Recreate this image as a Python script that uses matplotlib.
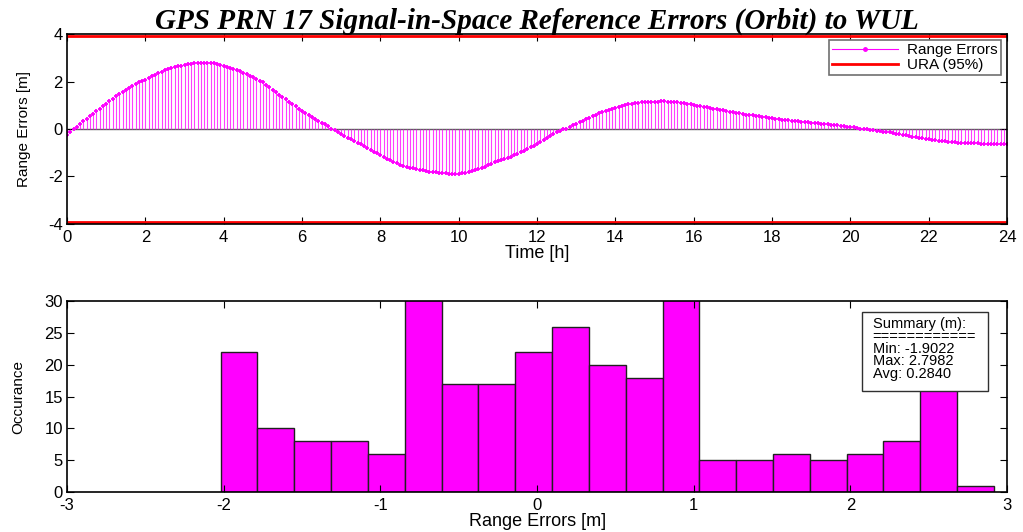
import numpy as np
import matplotlib
matplotlib.use("Agg")
import matplotlib.pyplot as plt
from matplotlib.patches import Rectangle

plt.rcParams['font.family'] = ['Liberation Sans', 'DejaVu Sans']
plt.rcParams['axes.unicode_minus'] = False

# range errors [m], one sample every 5 minutes over 24 h
range_err = [
    -0.25, -0.14, -0.02, 0.09, 0.20, 0.32, 0.43, 0.54, 0.64, 0.75, 0.86, 0.96,
    1.07, 1.17, 1.27, 1.37, 1.47, 1.57, 1.66, 1.74, 1.82, 1.89, 1.96, 2.02,
    2.08, 2.15, 2.22, 2.29, 2.36, 2.42, 2.48, 2.53, 2.57, 2.61, 2.64, 2.67,
    2.70, 2.72, 2.74, 2.76, 2.78, 2.79, 2.80, 2.80, 2.79, 2.77, 2.74, 2.71,
    2.67, 2.63, 2.59, 2.54, 2.49, 2.44, 2.38, 2.32, 2.25, 2.18, 2.10, 2.04,
    1.98, 1.87, 1.77, 1.66, 1.56, 1.45, 1.35, 1.25, 1.15, 1.05, 0.95, 0.85,
    0.75, 0.67, 0.59, 0.51, 0.43, 0.35, 0.27, 0.19, 0.11, 0.02, -0.06, -0.14,
    -0.22, -0.29, -0.36, -0.44, -0.51, -0.58, -0.65, -0.73, -0.80, -0.88, -0.96, -1.03,
    -1.11, -1.18, -1.25, -1.32, -1.38, -1.44, -1.50, -1.55, -1.59, -1.63, -1.66, -1.69,
    -1.71, -1.74, -1.76, -1.79, -1.81, -1.83, -1.84, -1.86, -1.87, -1.89, -1.90, -1.89,
    -1.88, -1.86, -1.84, -1.81, -1.78, -1.74, -1.69, -1.64, -1.58, -1.52, -1.46, -1.41,
    -1.36, -1.31, -1.26, -1.21, -1.16, -1.10, -1.05, -0.98, -0.91, -0.84, -0.77, -0.71,
    -0.64, -0.56, -0.47, -0.38, -0.30, -0.21, -0.13, -0.07, -0.02, 0.02, 0.09, 0.16,
    0.22, 0.29, 0.35, 0.42, 0.48, 0.55, 0.61, 0.66, 0.71, 0.76, 0.81, 0.86,
    0.90, 0.94, 0.97, 1.01, 1.04, 1.07, 1.09, 1.11, 1.12, 1.13, 1.14, 1.15,
    1.15, 1.15, 1.16, 1.16, 1.15, 1.15, 1.14, 1.13, 1.11, 1.08, 1.06, 1.04,
    1.02, 0.99, 0.96, 0.94, 0.91, 0.89, 0.86, 0.83, 0.80, 0.78, 0.75, 0.72,
    0.70, 0.68, 0.66, 0.63, 0.61, 0.59, 0.57, 0.55, 0.53, 0.51, 0.49, 0.48,
    0.46, 0.44, 0.42, 0.40, 0.38, 0.37, 0.35, 0.34, 0.32, 0.31, 0.30, 0.28,
    0.27, 0.25, 0.24, 0.22, 0.21, 0.19, 0.18, 0.16, 0.15, 0.13, 0.12, 0.10,
    0.09, 0.07, 0.05, 0.02, 0.00, -0.02, -0.04, -0.06, -0.07, -0.09, -0.11, -0.12,
    -0.14, -0.17, -0.19, -0.22, -0.25, -0.27, -0.30, -0.32, -0.34, -0.36, -0.39, -0.41,
    -0.43, -0.45, -0.47, -0.49, -0.50, -0.52, -0.54, -0.55, -0.56, -0.57, -0.58, -0.59,
    -0.60, -0.60, -0.61, -0.61, -0.62, -0.62, -0.63, -0.63, -0.64, -0.64, -0.64, -0.65,
    -0.65,
]
time_h = np.linspace(0, 24, len(range_err))
ura = 3.9

# histogram of the errors
err_min = -1.9022
err_max = 2.7982
err_avg = 0.2840
counts = [22, 10, 8, 8, 6, 31, 17, 17, 22, 26, 20, 18, 31, 5, 5, 6, 5, 6, 8, 17, 1]

mag = '#ff00ff'

fig = plt.figure(figsize=(10.23, 5.32), dpi=100)
ax1 = fig.add_axes([0.0655, 0.579, 0.919, 0.357])
ax2 = fig.add_axes([0.0655, 0.075, 0.919, 0.359])

# top panel: stem plot
ax1.axhline(0, color='#606060', lw=1, zorder=1)
ml, sl, bl = ax1.stem(time_h, range_err, linefmt='-', markerfmt='+', basefmt=' ')
plt.setp(sl, color=mag, lw=0.8, alpha=0.75)
plt.setp(ml, color=mag, markersize=3.5, markeredgewidth=1.3)
ax1.axhline(ura, color='red', lw=2)
ax1.axhline(-ura, color='red', lw=2)
ax1.set_xlim(0, 24)
ax1.set_ylim(-4, 4)
ax1.set_xticks(range(0, 25, 2))
ax1.set_yticks([-4, -2, 0, 2, 4])
ax1.set_xlabel('Time [h]', fontsize=13, labelpad=0)
ax1.set_ylabel('Range Errors [m]', fontsize=11, labelpad=12)
ax1.set_title('GPS PRN 17 Signal-in-Space Reference Errors (Orbit) to WUL',
              family='Liberation Serif', style='italic', weight='bold', fontsize=21, pad=4)
handles = [plt.Line2D([0, 1], [0, 0], color=mag, lw=0.8, marker='.', markersize=5, markevery=[1]),
           plt.Line2D([0, 1], [0, 0], color='red', lw=2)]
leg = ax1.legend(handles, ['Range Errors', 'URA (95%)'], loc='upper right', fontsize=11,
                 fancybox=False, framealpha=1, edgecolor='#707070', borderaxespad=0.4,
                 handlelength=4.3, handletextpad=0.6, borderpad=0.2, labelspacing=0.05)
leg.get_frame().set_linewidth(1.2)

# bottom panel: histogram
step = (err_max - err_min) / (len(counts) - 1)
centers = [err_min + i * step for i in range(len(counts))]
ax2.bar(centers, counts, width=step, color=mag, edgecolor='#202020', lw=1)
ax2.set_xlim(-3, 3)
ax2.set_ylim(0, 30)
ax2.set_xticks(range(-3, 4))
ax2.set_yticks(range(0, 31, 5))
ax2.set_xlabel('Range Errors [m]', fontsize=13, labelpad=0)
ax2.set_ylabel('Occurance', fontsize=11, labelpad=14)

# summary box
ax2.add_patch(Rectangle((0.846, 0.529), 0.134, 0.413, transform=ax2.transAxes,
                        fc='white', ec='#303030', lw=1, zorder=5))
summary = ('Summary (m):\n============\nMin: %.4f\nMax: %.4f\nAvg: %.4f'
           % (err_min, err_max, err_avg))
ax2.text(0.857, 0.915, summary, transform=ax2.transAxes, ha='left', va='top',
         fontsize=10.5, linespacing=0.85, zorder=6)

for ax in (ax1, ax2):
    ax.tick_params(direction='in', length=5, top=True, right=True, labelsize=12)
    ax.tick_params(axis='x', pad=4)
    ax.tick_params(axis='y', pad=3)
    for s in ax.spines.values():
        s.set_linewidth(1.2)

fig.savefig('out.png', dpi=100)
